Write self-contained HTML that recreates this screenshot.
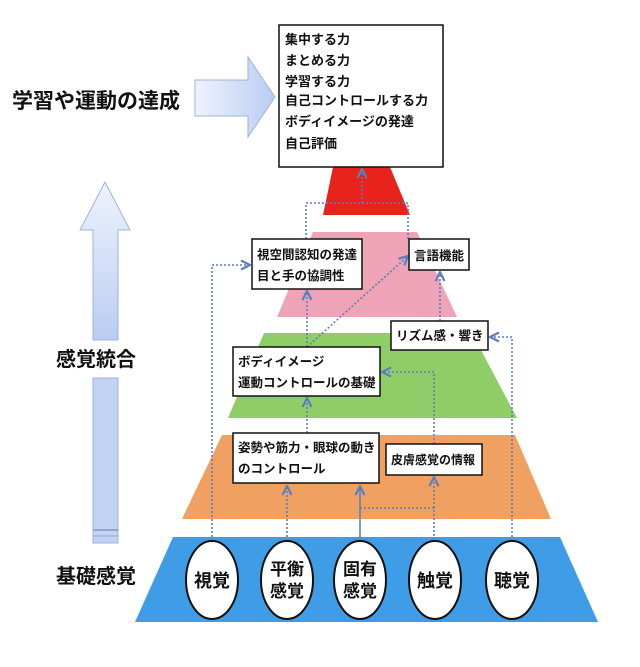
<!DOCTYPE html>
<html><head><meta charset="utf-8"><style>
html,body{margin:0;padding:0;background:#fff;}
svg{display:block;}
text{font-family:"Liberation Sans","Noto Sans CJK JP",sans-serif;font-weight:bold;fill:#111;}
</style></head><body>
<svg width="640" height="667" viewBox="0 0 640 667" xmlns="http://www.w3.org/2000/svg">
<defs>
<linearGradient id="ga" x1="0" y1="0" x2="0" y2="1"><stop offset="0" stop-color="#eef3fd"/><stop offset="1" stop-color="#b9cdf2"/></linearGradient>
<linearGradient id="gb" x1="0" y1="0" x2="1" y2="0"><stop offset="0" stop-color="#eef3fd"/><stop offset="1" stop-color="#b9cdf2"/></linearGradient>
<marker id="ar" viewBox="0 0 10 10" refX="9" refY="5" markerWidth="7" markerHeight="7" orient="auto-start-reverse"><path d="M1,1 L9,5 L1,9" fill="none" stroke="#5b7fc2" stroke-width="2"/></marker>
</defs>
<text x="12" y="108" font-size="21">学習や運動の達成</text>
<text x="56" y="366" font-size="20">感覚統合</text>
<text x="56" y="583" font-size="20">基礎感覚</text>
<path d="M195,80 L248,80 L248,57 L275,97 L248,137 L248,116 L195,116 Z" fill="url(#gb)" stroke="#9fb3d9" stroke-width="1"/>
<path d="M105,182 L130,230 L118,230 L118,340 L93,340 L93,230 L80,230 Z" fill="url(#ga)" stroke="#9fb3d9" stroke-width="1"/>
<rect x="93" y="378" width="25" height="165" fill="#c3d3f3" stroke="#9fb3d9" stroke-width="1"/>
<line x1="93" y1="530" x2="118" y2="530" stroke="#8fa3cc" stroke-width="2"/>
<line x1="93" y1="536" x2="118" y2="536" stroke="#8fa3cc" stroke-width="1"/>
<polygon points="333,167 390,167 410,215 323,215" fill="#e8231c"/>
<polygon points="313,232 417,232 457,317 277,317" fill="#eea4b6"/>
<polygon points="264,333 472,333 517,418 228,418" fill="#8fce67"/>
<polygon points="222,435 515,435 551,519 182,519" fill="#f0a060"/>
<polygon points="173,537 560,537 598,622 135,622" fill="#3e9de6"/>
<rect x="279" y="25" width="164" height="142" fill="#fff" stroke="#111" stroke-width="1.5"/>
<g font-size="13">
<text x="285" y="44">集中する力</text>
<text x="285" y="65">まとめる力</text>
<text x="285" y="86">学習する力</text>
<text x="285" y="105">自己コントロールする力</text>
<text x="285" y="126">ボディイメージの発達</text>
<text x="285" y="148">自己評価</text>
</g>
<g fill="none" stroke="#5b7fc2" stroke-width="1.6" stroke-dasharray="2,2">
<path d="M212,541 L212,265 L250,265" marker-end="url(#ar)"/>
<path d="M287,541 L287,486" marker-end="url(#ar)"/>
<path d="M360,508 L434,508"/>
<path d="M434,540 L434,477" marker-end="url(#ar)"/>
<path d="M434,444 L434,372 L382,372" marker-end="url(#ar)"/>
<path d="M512,541 L512,337 L490,337" marker-end="url(#ar)"/>
<path d="M307,433 L307,398" marker-end="url(#ar)"/>
<path d="M307,347 L307,291" marker-end="url(#ar)"/>
<path d="M307,347 L408,256" marker-end="url(#ar)"/>
<path d="M440,321 L440,272" marker-end="url(#ar)"/>
<path d="M306,239 L306,203 L408,203 L408,239"/>
<path d="M362,203 L362,169" marker-end="url(#ar)"/>
</g>
<path d="M360,541 L360,486" fill="none" stroke="#5b7fc2" stroke-width="1.6" marker-end="url(#ar)"/>
<g fill="#fff" stroke="#111" stroke-width="1.5">
<rect x="252" y="239" width="110" height="50"/>
<rect x="409" y="239" width="60" height="31"/>
<rect x="391" y="321" width="97" height="29"/>
<rect x="233" y="347" width="147" height="49"/>
<rect x="233" y="433" width="146" height="50"/>
<rect x="386" y="444" width="96" height="31"/>
</g>
<g font-size="12.5">
<text x="257" y="259">視空間認知の発達</text>
<text x="257" y="280">目と手の協調性</text>
<text x="414" y="260">言語機能</text>
<text x="396" y="340">リズム感・響き</text>
<text x="238" y="366">ボディイメージ</text>
<text x="238" y="387">運動コントロールの基礎</text>
<text x="238" y="452">姿勢や筋力・眼球の動き</text>
<text x="238" y="473">のコントロール</text>
<text x="391" y="464" font-size="12">皮膚感覚の情報</text>
</g>
<g fill="#fff" stroke="#111" stroke-width="2">
<ellipse cx="212" cy="580" rx="26" ry="39"/>
<ellipse cx="287" cy="580" rx="26" ry="39"/>
<ellipse cx="360" cy="580" rx="26" ry="39"/>
<ellipse cx="435" cy="580" rx="26" ry="39"/>
<ellipse cx="512" cy="580" rx="26" ry="39"/>
</g>
<g font-size="18" text-anchor="middle">
<text x="212" y="587">視覚</text>
<text x="287" y="575" font-size="17">平衡</text>
<text x="287" y="597" font-size="17">感覚</text>
<text x="360" y="575" font-size="17">固有</text>
<text x="360" y="597" font-size="17">感覚</text>
<text x="435" y="587">触覚</text>
<text x="512" y="587">聴覚</text>
</g>
</svg>
</body></html>
